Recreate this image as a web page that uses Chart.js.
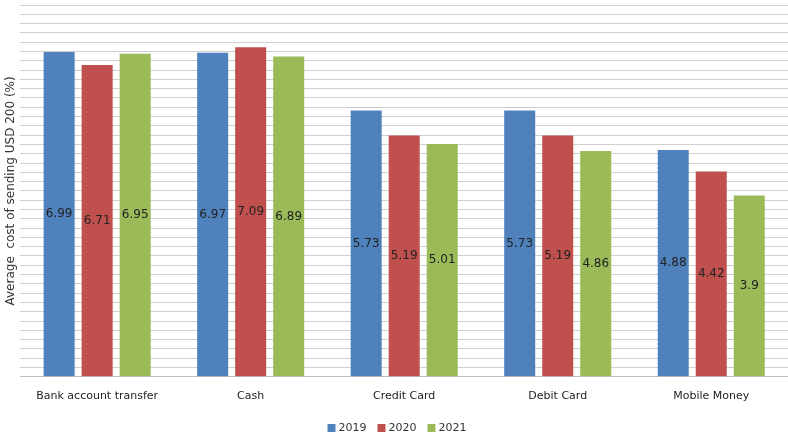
<!DOCTYPE html>
<html>
<head>
<meta charset="utf-8">
<script src="https://cdn.jsdelivr.net/npm/chart.js@4"></script>
<style>
  html, body { margin: 0; padding: 0; background: #fff; }
  #wrap { width: 788px; height: 436px; }
</style>
</head>
<body>
<div id="wrap"><canvas id="grafico"></canvas></div>
<script>
const categorias = ['Bank account transfer', 'Cash', 'Credit Card', 'Debit Card', 'Mobile Money'];
const anios = ['2019', '2020', '2021'];
const valores2019 = [6.99, 6.97, 5.73, 5.73, 4.88];
const valores2020 = [6.71, 7.09, 5.19, 5.19, 4.42];
const valores2021 = [6.95, 6.89, 5.01, 4.86, 3.9];
const colores = ['#4F81BD', '#C0504D', '#9BBB59'];

// etiquetas de valor centradas dentro de cada barra
const etiquetasBarras = {
    id: 'etiquetasBarras',
    afterDatasetsDraw(chart) {
        const ctx = chart.ctx;
        ctx.save();
        ctx.font = '12px "DejaVu Sans"';
        ctx.fillStyle = '#222';
        ctx.textAlign = 'center';
        ctx.textBaseline = 'middle';
        chart.data.datasets.forEach((ds, i) => {
            chart.getDatasetMeta(i).data.forEach((bar, j) => {
                const y = (bar.y + bar.base) / 2;
                ctx.fillText(String(ds.data[j]), bar.x, y);
            });
        });
        ctx.restore();
    }
};

// leyenda propia abajo, mas cerca del borde que la de Chart.js
const leyendaAbajo = {
    id: 'leyendaAbajo',
    afterDraw(chart) {
        const ctx = chart.ctx;
        const caja = 8, sep = 3, hueco = 11;
        ctx.save();
        ctx.font = '11px "DejaVu Sans"';
        ctx.textBaseline = 'middle';
        const items = chart.data.datasets.map(ds => ({
            texto: ds.label,
            color: ds.backgroundColor,
            ancho: caja + sep + ctx.measureText(ds.label).width
        }));
        const total = items.reduce((s, it) => s + it.ancho, 0) + hueco * (items.length - 1);
        let x = (chart.width - total) / 2 + 3;
        const y = chart.height - 8;
        items.forEach(it => {
            ctx.fillStyle = it.color;
            ctx.fillRect(x, y - caja / 2, caja, caja);
            ctx.fillStyle = '#333';
            ctx.fillText(it.texto, x + caja + sep, y + 0.5);
            x += it.ancho + hueco;
        });
        ctx.restore();
    }
};

const series = [valores2019, valores2020, valores2021];

new Chart(document.getElementById('grafico').getContext('2d'), {
    type: 'bar',
    data: {
        labels: categorias,
        datasets: series.map((datos, i) => ({
            label: anios[i],
            data: datos,
            backgroundColor: colores[i],
            borderWidth: 0,
            barPercentage: 0.816,
            categoryPercentage: 0.743
        }))
    },
    options: {
        responsive: true,
        maintainAspectRatio: false,
        animation: false,
        layout: { padding: { top: 5, right: 0, left: 0, bottom: 20 } },
        plugins: {
            tooltip: { enabled: false },
            legend: { display: false }
        },
        scales: {
            x: {
                grid: { display: false, drawTicks: false },
                border: { display: true, color: '#bfbfbf' },
                ticks: {
                    padding: 13,
                    color: '#222',
                    font: { family: 'DejaVu Sans', size: 11 }
                }
            },
            y: {
                min: 0,
                max: 8,
                ticks: { display: false, stepSize: 0.2 },
                grid: { color: '#cfcfcf', drawTicks: false },
                border: { display: false },
                title: {
                    display: true,
                    text: 'Average  cost of sending USD 200 (%)',
                    color: '#333',
                    font: { family: 'DejaVu Sans', size: 12 },
                    padding: { top: 4, bottom: 2 }
                }
            }
        }
    },
    plugins: [etiquetasBarras, leyendaAbajo]
});
</script>
</body>
</html>
